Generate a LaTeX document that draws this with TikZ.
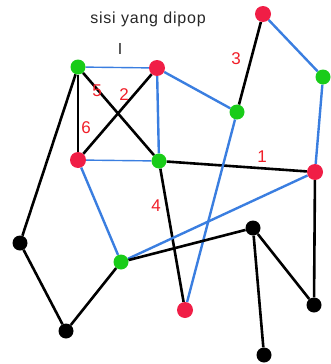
\documentclass[tikz,border=0pt]{standalone}
\usepackage{fontspec}
\setmainfont{Liberation Sans}
\usetikzlibrary{positioning,backgrounds}
\definecolor{dotgreen}{HTML}{19cc19}
\definecolor{dotred}{HTML}{f01e46}
\definecolor{edgeblue}{HTML}{3a7ee0}
\definecolor{labelred}{HTML}{f01e28}

\tikzset{
  greendot/.style={circle,fill=dotgreen,inner sep=0pt,minimum size=15pt},
  reddot/.style={circle,fill=dotred,inner sep=0pt,minimum size=16pt},
  blackdot/.style={circle,fill=black,inner sep=0pt,minimum size=15pt},
  blackedge/.style={black,line width=2.6pt},
  thinblack/.style={black,line width=1.4pt},
  blueedge/.style={edgeblue,line width=2.4pt},
  thinblue/.style={edgeblue,line width=1.4pt},
  numlabel/.style={text=labelred,font=\fontsize{17}{19}\selectfont}
}

\begin{document}
\begin{tikzpicture}[x=1pt,y=-1pt]

% Frame
\useasboundingbox (0,0) rectangle (331,364);

% ===== VERTICES =====
\node[greendot] (a) at (78,67) {};
\node[reddot] (b) at (157,68) {};
\node[reddot] (c) at (78,160) {};
\node[greendot] (d) at (159,161) {};
\node[greendot] (e) at (237,112) {};
\node[reddot] (f) at (263,14) {};
\node[greendot] (g) at (323,77) {};
\node[reddot] (h) at (315,172) {};
\node[greendot] (i) at (121,262) {};
\node[blackdot] (j) at (20,243) {};
\node[blackdot] (k) at (66,331) {};
\node[reddot] (l) at (185,310) {};
\node[blackdot] (m) at (253,228) {};
\node[blackdot] (n) at (314,305) {};
\node[blackdot] (o) at (264,355) {};

% ===== EDGES (behind the vertices) =====
\begin{scope}[on background layer]
\draw[thinblue] (a) -- (b);
\draw[thinblue] (c) -- (d);
\draw[blueedge] (b) -- (d);
\draw[thinblack] (a) -- (c);
\draw[blackedge] (a) -- (d);
\draw[blackedge] (b) -- (c);
\draw[blueedge] (b) -- (e);
\draw[blackedge] (e) -- (f);
\draw[blueedge] (f) -- (g);
\draw[blueedge] (g) -- (h);
\draw[blackedge] (d) -- (h);
\draw[blueedge] (e) -- (l);
\draw[blackedge] (d) -- (l);
\draw[blueedge] (h) -- (i);
\draw[blueedge] (c) -- (i);
\draw[blackedge] (i) -- (k);
\draw[blackedge] (k) -- (j);
\draw[blackedge] (j) -- (a);
\draw[blackedge] (i) -- (m);
\draw[blackedge] (m) -- (n);
\draw[blackedge] (n) -- (h);
\draw[blackedge] (m) -- (o);
\end{scope}

% ===== LABELS =====
\node (title) at (148,19)
  {\fontsize{16}{18}\selectfont\addfontfeature{LetterSpace=5}\color{black!85} sisi yang dipop};
\node (mark) at (120,49) {\fontsize{16}{18}\selectfont\color{black!85} I};

\node[numlabel] (n3) at (236,59) {3};
\node[numlabel] (n5) at (97,91) {5};
\node[numlabel] (n2) at (124,95) {2};
\node[numlabel] (n6) at (86,128) {6};
\node[numlabel] (n1) at (262,157) {1};
\node[numlabel] (n4) at (156,206) {4};

\end{tikzpicture}
\end{document}
